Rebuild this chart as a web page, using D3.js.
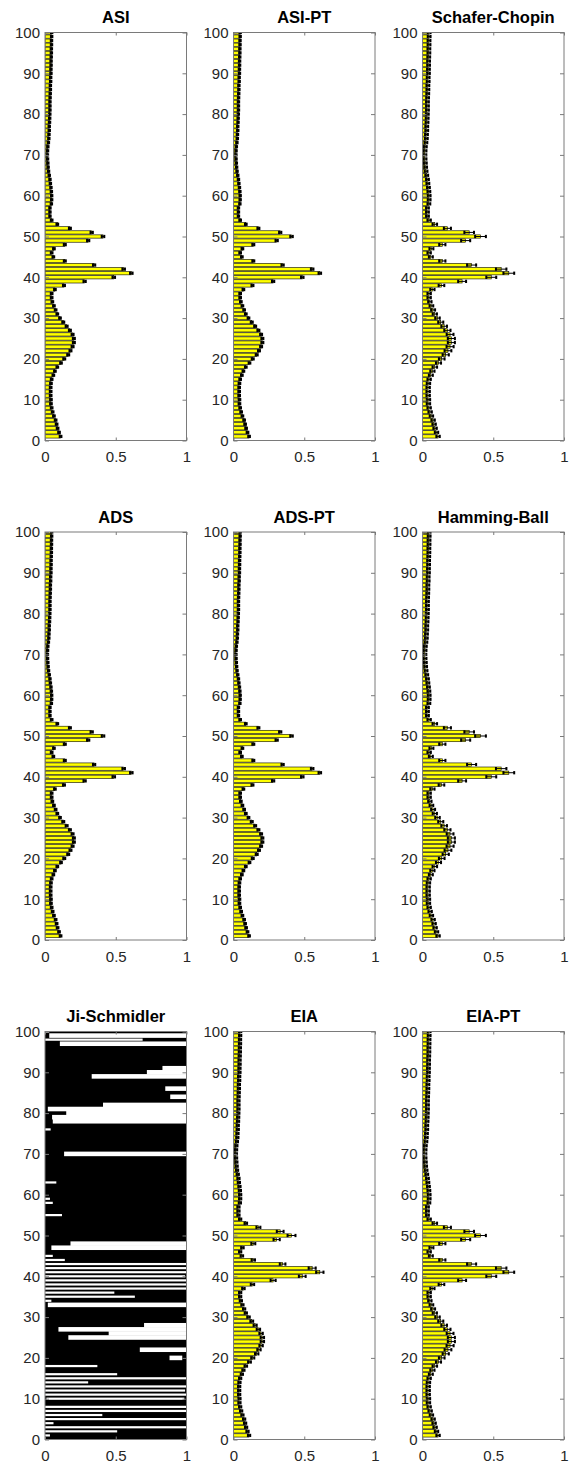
<!DOCTYPE html>
<html>
<head>
<meta charset="utf-8">
<script src="https://cdn.jsdelivr.net/npm/d3@7"></script>
<style>
  body { margin: 0; background: #fff; }
  svg { display: block; }
  text { font-family: "Liberation Sans", Arial, Helvetica, sans-serif; }
</style>
</head>
<body>
<svg id="fig" width="572" height="1469"></svg>
<script>
// Variable index on the vertical axis
const variables = d3.range(1, 101);

// Panel titles, row by row
const panelTitles = [
  "ASI", "ASI-PT", "Schafer-Chopin",
  "ADS", "ADS-PT", "Hamming-Ball",
  "Ji-Schmidler", "EIA", "EIA-PT"
];

// Exact posterior inclusion probability of each variable (yellow bars)
const truePip = [
  0.110, 0.099, 0.089, 0.082, 0.075, 0.063, 0.054, 0.047, 0.042, 0.042,
  0.040, 0.040, 0.040, 0.042, 0.047, 0.059, 0.070, 0.087, 0.113, 0.136,
  0.164, 0.180, 0.195, 0.204, 0.204, 0.195, 0.176, 0.153, 0.129, 0.106,
  0.087, 0.075, 0.063, 0.052, 0.047, 0.047, 0.070, 0.134, 0.280, 0.486,
  0.610, 0.556, 0.347, 0.140, 0.059, 0.047, 0.063, 0.140, 0.305, 0.410,
  0.330, 0.176, 0.087, 0.047, 0.035, 0.035, 0.035, 0.045, 0.047, 0.047,
  0.045, 0.042, 0.038, 0.035, 0.030, 0.025, 0.022, 0.020, 0.018, 0.017,
  0.018, 0.020, 0.024, 0.027, 0.028, 0.030, 0.030, 0.032, 0.033, 0.034,
  0.035, 0.035, 0.035, 0.036, 0.037, 0.038, 0.038, 0.040, 0.040, 0.042,
  0.042, 0.043, 0.043, 0.044, 0.045, 0.045, 0.046, 0.046, 0.047, 0.047
];

// Spread (standard deviation over repeated runs) of each sampler's estimate
const sdASI = [
  0.006, 0.006, 0.006, 0.006, 0.006, 0.006, 0.006, 0.006, 0.006, 0.006,
  0.006, 0.006, 0.006, 0.006, 0.006, 0.006, 0.006, 0.006, 0.006, 0.007,
  0.007, 0.007, 0.007, 0.007, 0.007, 0.007, 0.007, 0.007, 0.007, 0.006,
  0.006, 0.006, 0.006, 0.006, 0.006, 0.006, 0.006, 0.007, 0.008, 0.009,
  0.009, 0.009, 0.008, 0.007, 0.006, 0.006, 0.006, 0.007, 0.008, 0.009,
  0.008, 0.007, 0.006, 0.006, 0.005, 0.005, 0.005, 0.005, 0.005, 0.005,
  0.005, 0.005, 0.005, 0.005, 0.005, 0.005, 0.005, 0.005, 0.005, 0.005,
  0.005, 0.005, 0.005, 0.005, 0.005, 0.005, 0.005, 0.005, 0.005, 0.005,
  0.005, 0.005, 0.005, 0.005, 0.005, 0.005, 0.005, 0.005, 0.005, 0.005,
  0.005, 0.005, 0.005, 0.005, 0.005, 0.005, 0.005, 0.005, 0.005, 0.005
];
const sdASIPT = sdASI;
const sdADS = sdASI;
const sdADSPT = sdASI;
const sdSchaferChopin = [
  0.012, 0.012, 0.012, 0.012, 0.012, 0.012, 0.012, 0.012, 0.012, 0.012,
  0.012, 0.012, 0.012, 0.012, 0.012, 0.014, 0.015, 0.016, 0.018, 0.020,
  0.022, 0.024, 0.025, 0.025, 0.025, 0.024, 0.022, 0.020, 0.018, 0.016,
  0.015, 0.014, 0.013, 0.012, 0.012, 0.012, 0.015, 0.020, 0.028, 0.035,
  0.038, 0.037, 0.032, 0.022, 0.014, 0.012, 0.014, 0.022, 0.032, 0.038,
  0.034, 0.025, 0.016, 0.012, 0.010, 0.010, 0.010, 0.010, 0.010, 0.010,
  0.010, 0.010, 0.010, 0.010, 0.010, 0.010, 0.010, 0.010, 0.010, 0.010,
  0.010, 0.010, 0.010, 0.010, 0.010, 0.010, 0.010, 0.010, 0.010, 0.010,
  0.010, 0.010, 0.010, 0.010, 0.010, 0.010, 0.010, 0.010, 0.010, 0.010,
  0.010, 0.010, 0.010, 0.010, 0.010, 0.010, 0.010, 0.010, 0.010, 0.010
];
const sdHammingBall = sdSchaferChopin;
const sdEIA = [
  0.008, 0.008, 0.008, 0.008, 0.008, 0.008, 0.008, 0.008, 0.008, 0.008,
  0.008, 0.008, 0.008, 0.008, 0.008, 0.008, 0.008, 0.009, 0.010, 0.011,
  0.012, 0.012, 0.012, 0.012, 0.012, 0.012, 0.012, 0.011, 0.010, 0.009,
  0.008, 0.008, 0.008, 0.008, 0.008, 0.008, 0.009, 0.012, 0.018, 0.024,
  0.026, 0.025, 0.020, 0.012, 0.009, 0.008, 0.009, 0.014, 0.022, 0.028,
  0.024, 0.014, 0.009, 0.008, 0.008, 0.008, 0.008, 0.008, 0.008, 0.008,
  0.008, 0.008, 0.008, 0.008, 0.008, 0.008, 0.008, 0.008, 0.008, 0.008,
  0.008, 0.008, 0.008, 0.008, 0.008, 0.008, 0.008, 0.008, 0.008, 0.008,
  0.008, 0.008, 0.008, 0.008, 0.008, 0.008, 0.008, 0.008, 0.008, 0.008,
  0.008, 0.008, 0.008, 0.008, 0.008, 0.008, 0.008, 0.008, 0.008, 0.008
];
const sdEIAPT = sdSchaferChopin;

// Ji-Schmidler: estimates scatter over the whole [0, 1] range for every variable;
// the listed rows leave an uncovered stretch [from, to]
const jsSpread = [0, 1];
const jsGapRow  = [100, 99, 98, 97, 91, 90, 89, 86, 84, 82, 81, 80, 79, 78, 76, 70, 63, 59, 58, 55,
                   48, 47, 45, 44, 43, 42, 41, 40, 39, 38, 37, 36, 35, 34, 33, 28, 27, 26, 25, 22,
                   20, 18, 16, 15, 14, 13, 12, 11, 10, 8, 7, 6, 5, 4, 3, 2, 1];
const jsGapFrom = [0.00, 0.03, 0.00, 0.105, 0.83, 0.72, 0.33, 0.85, 0.885, 0.41, 0.02, 0.15, 0.05, 0.055, 0.00, 0.135, 0.00, 0.00, 0.00, 0.00,
                   0.18, 0.045, 0.00, 0.00, 0.00, 0.00, 0.00, 0.00, 0.00, 0.00, 0.00, 0.00, 0.00, 0.00, 0.02, 0.70, 0.095, 0.45, 0.165, 0.67,
                   0.88, 0.00, 0.00, 0.00, 0.00, 0.00, 0.00, 0.00, 0.01, 0.00, 0.00, 0.00, 0.00, 0.00, 0.00, 0.00, 0.00];
const jsGapTo   = [0.03, 1.00, 0.69, 1.00, 1.00, 1.00, 1.00, 1.00, 1.00, 1.00, 1.00, 1.00, 1.00, 1.00, 0.04, 1.00, 0.08, 0.035, 0.055, 0.12,
                   1.00, 1.00, 0.055, 0.14, 1.00, 1.00, 1.00, 0.99, 1.00, 1.00, 1.00, 0.49, 0.635, 0.045, 1.00, 1.00, 1.00, 1.00, 1.00, 1.00,
                   0.97, 0.37, 0.51, 1.00, 0.305, 1.00, 0.99, 1.00, 0.985, 1.00, 1.00, 0.405, 1.00, 0.06, 1.00, 0.51, 0.035];

const xTicks = [0, 0.5, 1];
const yTicks = d3.range(0, 101, 10);

const panelSd = [sdASI, sdASIPT, sdSchaferChopin, sdADS, sdADSPT, sdHammingBall, null, sdEIA, sdEIAPT];

// ---- layout ----
const colLeft = [45, 233.5, 422.5];
const rowTop = [32.5, 532, 1031.5];
const plotW = 141.5, plotH = 408;

const svg = d3.select("#fig");
const defs = svg.append("defs");

panelTitles.forEach((title, p) => {
  const c = p % 3, r = Math.floor(p / 3);
  const g = svg.append("g").attr("transform", `translate(${colLeft[c]},${rowTop[r]})`);

  const x = d3.scaleLinear().domain([0, 1]).range([0, plotW]);
  const y = d3.scaleLinear().domain([0, 100]).range([plotH, 0]);

  const clipId = "clip" + p;
  defs.append("clipPath").attr("id", clipId)
    .append("rect").attr("width", plotW).attr("height", plotH);

  const plot = g.append("g").attr("clip-path", `url(#${clipId})`);
  const barHalf = 0.4;

  if (p === 6) {
    // every variable is covered by the spread band
    plot.selectAll("rect.spread").data(variables).join("rect")
      .attr("class", "spread")
      .attr("x", x(jsSpread[0]))
      .attr("width", x(jsSpread[1]) - x(jsSpread[0]))
      .attr("y", d => y(d + 1))
      .attr("height", y(0) - y(2))
      .attr("fill", "#000");
    // uncovered stretches: those opening at the left edge stay thin,
    // interior ones fill the row so adjacent ones merge
    const gaps = jsGapRow.map((row, i) => ({ row, from: jsGapFrom[i], to: jsGapTo[i] }));
    plot.selectAll("rect.gap").data(gaps).join("rect")
      .attr("class", "gap")
      .attr("x", d => x(d.from))
      .attr("width", d => x(d.to) - x(d.from))
      .attr("y", d => y(d.row + (d.from <= 0.01 ? 0.27 : 0.56)))
      .attr("height", d => y(0) - y(d.from <= 0.01 ? 0.54 : 1.12))
      .attr("fill", "#fff");
  } else {
    const sd = panelSd[p];
    const rows = variables.map((v, i) => ({ v, pip: truePip[i], sd: sd[i] }));

    plot.selectAll("rect.bar").data(rows).join("rect")
      .attr("class", "bar")
      .attr("x", x(0))
      .attr("width", d => x(d.pip) - x(0))
      .attr("y", d => y(d.v + barHalf))
      .attr("height", y(0) - y(2 * barHalf))
      .attr("fill", "#ffff00")
      .attr("stroke", "#000")
      .attr("stroke-width", 0.6);

    // error bars: whisker line plus end caps
    plot.selectAll("line.err").data(rows).join("line")
      .attr("class", "err")
      .attr("x1", d => x(Math.max(0, d.pip - d.sd)))
      .attr("x2", d => x(d.pip + d.sd))
      .attr("y1", d => y(d.v)).attr("y2", d => y(d.v))
      .attr("stroke", "#000").attr("stroke-width", 1);
    const caps = rows.flatMap(d => [
      { v: d.v, at: Math.max(0, d.pip - d.sd) },
      { v: d.v, at: d.pip + d.sd }
    ]);
    plot.selectAll("rect.cap").data(caps).join("rect")
      .attr("class", "cap")
      .attr("x", d => x(d.at) - 1)
      .attr("width", 2)
      .attr("y", d => y(d.v + barHalf))
      .attr("height", y(0) - y(2 * barHalf))
      .attr("fill", "#000");
  }

  // box
  g.append("rect").attr("width", plotW).attr("height", plotH)
    .attr("fill", "none").attr("stroke", "#7a7a7a").attr("stroke-width", 1);

  const axisStyle = sel => {
    sel.select(".domain").remove();
    sel.selectAll(".tick line").attr("stroke", "#7a7a7a");
    sel.selectAll(".tick text").attr("fill", "#262626")
      .style("font-size", "15px").style("font-family", "'Liberation Sans', Arial, sans-serif");
  };

  g.append("g")
    .call(d3.axisLeft(y).tickValues(yTicks).tickSize(-4).tickPadding(5))
    .call(axisStyle);
  g.append("g").attr("transform", `translate(${plotW},0)`)
    .call(d3.axisRight(y).tickValues(yTicks).tickSize(-4).tickFormat(""))
    .call(axisStyle);
  g.append("g").attr("transform", `translate(0,${plotH})`)
    .call(d3.axisBottom(x).tickValues(xTicks).tickSize(-3).tickPadding(11).tickFormat(d3.format("~g")))
    .call(axisStyle);
  g.append("g")
    .call(d3.axisTop(x).tickValues(xTicks).tickSize(-3).tickFormat(""))
    .call(axisStyle);

  g.append("text")
    .attr("x", plotW / 2).attr("y", -9.5)
    .attr("text-anchor", "middle")
    .attr("font-weight", "bold")
    .attr("font-size", "16.5px")
    .attr("fill", "#000")
    .text(title);
});
</script>
</body>
</html>
